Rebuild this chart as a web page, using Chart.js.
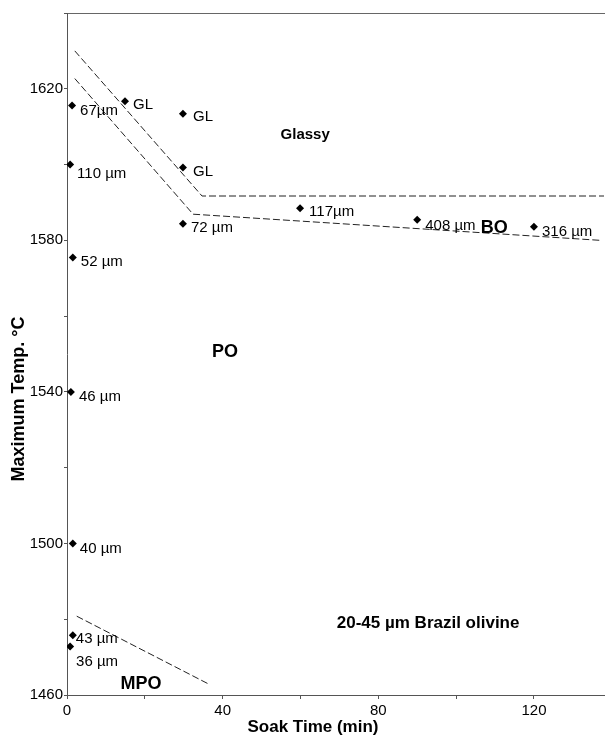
<!DOCTYPE html>
<html>
<head>
<meta charset="utf-8">
<script src="https://cdn.jsdelivr.net/npm/chart.js@4"></script>
<style>
  html, body { margin: 0; padding: 0; background: #fff; }
  #wrap { width: 608px; height: 736px; }
</style>
</head>
<body>
<div id="wrap"><canvas id="chart" width="608" height="736"></canvas></div>
<script>
// ---- data ----
const soakTimes  = [1.3, 14.9, 29.8, 29.8, 0.8, 29.8, 59.9, 90, 120, 1.5, 1, 1.5, 1.5, 0.8];
const maxTemps   = [1615.6, 1616.7, 1613.4, 1599.2, 1600, 1584.4, 1588.5, 1585.4, 1583.6, 1575.5, 1540, 1500, 1475.8, 1472.8];
const pointNames = ['67\u00b5m', 'GL', 'GL', 'GL', '110 \u00b5m', '72 \u00b5m', '117\u00b5m', '408 \u00b5m', '316 \u00b5m',
                    '52 \u00b5m', '46 \u00b5m', '40 \u00b5m', '43 \u00b5m', '36 \u00b5m'];

// boundary lines (x, y)
const glassyUpperX = [2, 34.7, 138];
const glassyUpperY = [1630, 1591.7, 1591.7];
const glassyLowerX = [2, 32.4, 137];
const glassyLowerY = [1622.7, 1586.9, 1580];
const mpoLineX = [2.5, 36.2];
const mpoLineY = [1480.8, 1463];

// region labels
const regionNames = ['Glassy', 'BO', 'PO', 'MPO', '20-45 \u00b5m Brazil olivine'];
const regionX = [61.2, 109.8, 40.6, 19, 92.8];
const regionY = [1607.8, 1583.2, 1550.6, 1463, 1479];

const xTicks = [0, 40, 80, 120];
const yTicks = [1460, 1500, 1540, 1580, 1620];

// label offsets from each marker (styling only)
const labelDx = [8, 8, 10, 10, 7, 8, 9, 8, 8, 8, 8, 7, 3, 6];
const labelDy = [5, 4, 3, 4, 9, 4, 4, 6, 5, 4, 5, 5, 4, 15];
const regionSize = [15, 18, 18, 18, 17];

const FONT = '"Liberation Sans", Arial, sans-serif';

function toPts(xs, ys) {
    return xs.map((x, i) => ({ x: x, y: ys[i] }));
}

const lineStyle = {
    showLine: true,
    borderColor: '#222',
    borderWidth: 1,
    borderDash: [7, 3],
    pointRadius: 0,
    fill: false
};

// ---- text drawn next to the markers, and region/axis titles ----
const textPlugin = {
    id: 'textPlugin',
    afterDatasetsDraw(chart) {
        const ctx = chart.ctx;
        const xs = chart.scales.x, ys = chart.scales.y;
        ctx.save();
        ctx.fillStyle = '#000';
        ctx.textBaseline = 'middle';
        ctx.textAlign = 'left';
        ctx.font = '15px ' + FONT;
        pointNames.forEach((name, i) => {
            const px = xs.getPixelForValue(soakTimes[i]);
            const py = ys.getPixelForValue(maxTemps[i]);
            ctx.fillText(name, px + labelDx[i], py + labelDy[i]);
        });
        ctx.textAlign = 'center';
        regionNames.forEach((name, i) => {
            ctx.font = 'bold ' + regionSize[i] + 'px ' + FONT;
            ctx.fillText(name, xs.getPixelForValue(regionX[i]), ys.getPixelForValue(regionY[i]));
        });
        // axis titles
        ctx.font = 'bold 17px ' + FONT;
        ctx.fillText('Soak Time (min)', 313, 727);
        ctx.translate(19, 399);
        ctx.rotate(-Math.PI / 2);
        ctx.font = 'bold 18px ' + FONT;
        ctx.fillText('Maximum Temp. \u00b0C', 0, 0);
        ctx.restore();
    }
};

new Chart(document.getElementById('chart'), {
    type: 'scatter',
    data: {
        datasets: [
            {
                label: 'samples',
                data: toPts(soakTimes, maxTemps),
                pointStyle: 'rectRot',
                pointRadius: 4,
                backgroundColor: '#000',
                borderColor: '#000',
                borderWidth: 0
            },
            Object.assign({ label: 'upper', data: toPts(glassyUpperX, glassyUpperY) }, lineStyle),
            Object.assign({ label: 'lower', data: toPts(glassyLowerX, glassyLowerY) }, lineStyle),
            Object.assign({ label: 'mpo', data: toPts(mpoLineX, mpoLineY) }, lineStyle)
        ]
    },
    options: {
        responsive: false,
        animation: false,
        layout: { padding: { left: 0, right: 1, top: 0, bottom: 0 } },
        plugins: { legend: { display: false }, tooltip: { enabled: false } },
        scales: {
            x: {
                type: 'linear',
                min: 0,
                max: 138,
                afterFit: s => { s.height = 41; },
                afterBuildTicks: s => { s.ticks = s.ticks.filter(t => t.value % 20 === 0); },
                ticks: {
                    stepSize: 20,
                    color: '#000',
                    font: { family: FONT, size: 15 },
                    padding: 3,
                    maxRotation: 0,
                    autoSkip: false,
                    callback: v => xTicks.includes(v) ? String(v) : ''
                },
                grid: { drawOnChartArea: false, tickLength: 4, color: '#555' },
                border: { color: '#555', width: 1 }
            },
            xTop: {
                type: 'linear',
                position: 'top',
                min: 0,
                max: 138,
                afterFit: s => { s.height = 13; },
                ticks: { display: false },
                grid: { display: false },
                border: { color: '#666', width: 1 }
            },
            y: {
                min: 1460,
                max: 1640,
                afterFit: s => { s.width = 67; },
                ticks: {
                    stepSize: 20,
                    color: '#000',
                    font: { family: FONT, size: 15 },
                    padding: 1,
                    autoSkip: false,
                    callback: v => yTicks.includes(v) ? String(v) : ''
                },
                grid: { drawOnChartArea: false, tickLength: 3, color: '#555' },
                border: { color: '#555', width: 1 }
            }
        }
    },
    plugins: [textPlugin]
});
</script>
</body>
</html>
